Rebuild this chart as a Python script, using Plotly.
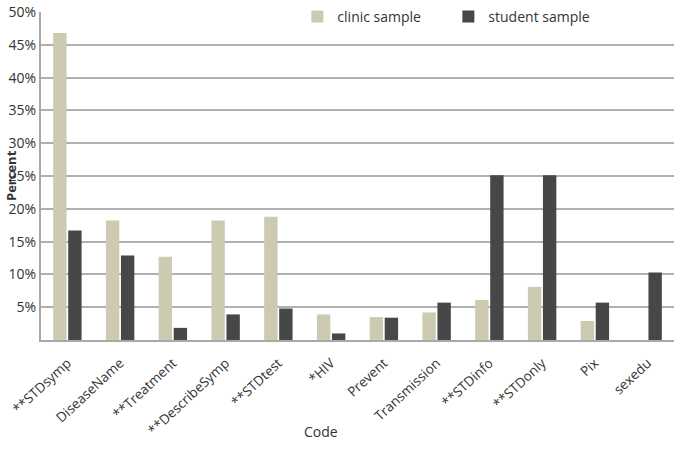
import plotly.graph_objects as go

categories = ["**STDsymp", "DiseaseName", "**Treatment", "**DescribeSymp", "**STDtest",
              "*HIV", "Prevent", "Transmission", "**STDinfo", "**STDonly", "Pix", "sexedu"]
clinic = [46.8, 18.2, 12.7, 18.2, 18.8, 3.9, 3.5, 4.2, 6.1, 8.1, 2.9, 0.0]
student = [16.7, 12.9, 1.85, 3.9, 4.8, 1.0, 3.4, 5.7, 25.1, 25.1, 5.7, 10.3]
tick_vals = [5, 10, 15, 20, 25, 30, 35, 40, 45, 50]
tick_text = ["5%", "10%", "15%", "20%", "25%", "30%", "35%", "40%", "45%", "50%"]

FONT = "Open Sans"

fig = go.Figure()
fig.add_trace(go.Bar(x=categories, y=clinic, name="clinic sample",
                     marker=dict(color="#cdcab2", line=dict(width=0))))
fig.add_trace(go.Bar(x=categories, y=student, name="student sample",
                     marker=dict(color="#474747", line=dict(width=0))))

fig.update_layout(
    width=685, height=453,
    margin=dict(l=41, r=11, t=12, b=113, autoexpand=False),
    paper_bgcolor="white", plot_bgcolor="white",
    barmode="group", bargap=0.43, bargroupgap=0.11,
    font=dict(family=FONT, size=13, color="#333333"),
    showlegend=True,
    legend=dict(orientation="h", x=0.405, y=0.985, xanchor="left", yanchor="middle",
                font=dict(size=14, color="#333333"), bgcolor="rgba(0,0,0,0)",
                entrywidth=106, entrywidthmode="pixels", itemwidth=30),
    xaxis=dict(tickangle=-43, showgrid=False, showline=True, linecolor="#a8a8a8",
               linewidth=2, ticks="", automargin=False, ticklabelstandoff=8,
               tickfont=dict(size=13.5, color="#333333")),
    yaxis=dict(range=[0, 50], tickvals=tick_vals, ticktext=tick_text,
               showgrid=True, gridcolor="#b0b0b0", gridwidth=2, automargin=False,
               showline=True, linecolor="#a8a8a8", linewidth=2, ticks="",
               ticklabeloverflow="allow",
               zeroline=False, tickfont=dict(size=14, color="#333333")),
    annotations=[
        dict(text="<b>Percent</b>", xref="paper", yref="paper", x=0, y=0.5,
             xshift=-41, textangle=-90, showarrow=False, font=dict(size=13, color="#333333")),
        dict(text="Code", xref="paper", yref="paper", x=0.443, y=0, yshift=-103,
             showarrow=False, font=dict(size=14, color="#333333")),
    ],
)

fig.write_html("out.html", config={"displayModeBar": False},
               post_script="document.body.style.margin='0';")
